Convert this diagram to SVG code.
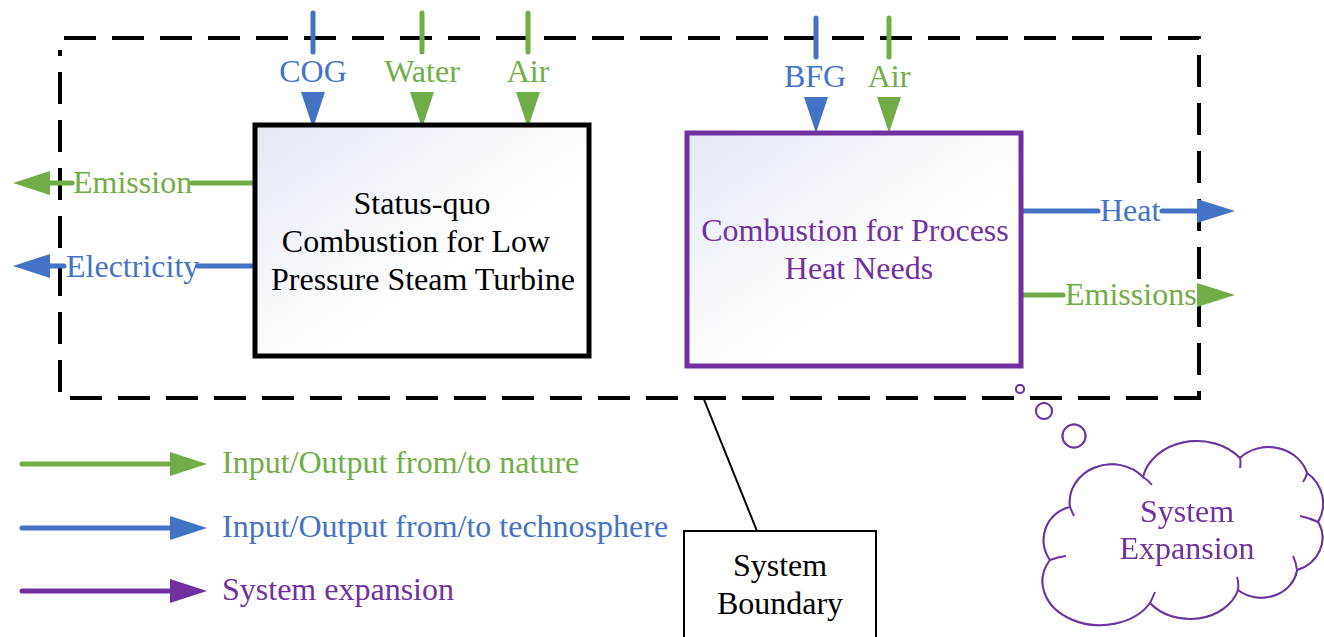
<svg xmlns="http://www.w3.org/2000/svg" width="1324" height="637" viewBox="0 0 1324 637">
<defs>
<linearGradient id="gb" x1="0" y1="0" x2="1" y2="1">
<stop offset="0" stop-color="#e4e9f5"/>
<stop offset="0.6" stop-color="#ffffff"/>
</linearGradient>
<filter id="sh" x="-10%" y="-10%" width="130%" height="130%">
<feGaussianBlur in="SourceAlpha" stdDeviation="3"/>
<feOffset dx="2" dy="3"/>
<feComponentTransfer><feFuncA type="linear" slope="0.25"/></feComponentTransfer>
<feFlood flood-color="#4472c4"/>
<feComposite operator="in" in2="SourceAlpha"/>
<feMerge><feMergeNode/><feMergeNode in="SourceGraphic"/></feMerge>
</filter>
</defs>
<style>
text{font-family:"Liberation Serif","Times New Roman",serif;font-size:32px}
.g{fill:#70ad47}.b{fill:#4472c4}.p{fill:#7030a0}.k{fill:#000}
.lg{stroke:#70ad47;stroke-width:5;stroke-linecap:round;fill:none}
.lb{stroke:#4472c4;stroke-width:5;stroke-linecap:round;fill:none}
.lp{stroke:#7030a0;stroke-width:5;stroke-linecap:round;fill:none}
.mid{text-anchor:middle}
</style>
<g id="boundary">
<path d="M64 38 H1199 V398 H60 V50" fill="none" stroke="#000" stroke-width="4" stroke-dasharray="32 16"/>
</g>
<g id="connectors">
<line class="lb" x1="313" y1="13" x2="313" y2="52"/>
<polygon class="b" points="301,92 325,92 313,128"/>
<line class="lg" x1="422" y1="13" x2="422" y2="52"/>
<polygon class="g" points="410,92 434,92 422,128"/>
<line class="lg" x1="528" y1="13" x2="528" y2="52"/>
<polygon class="g" points="516,92 540,92 528,128"/>
<line class="lb" x1="816" y1="18" x2="816" y2="57"/>
<polygon class="b" points="804,97 828,97 816,133"/>
<line class="lg" x1="889" y1="18" x2="889" y2="57"/>
<polygon class="g" points="877,97 901,97 889,133"/>
<line class="lg" x1="192" y1="183" x2="254" y2="183"/>
<line class="lg" x1="50" y1="183" x2="72" y2="183"/>
<polygon class="g" points="50,171 50,195 13,183"/>
<line class="lb" x1="198" y1="266" x2="254" y2="266"/>
<line class="lb" x1="50" y1="266" x2="64" y2="266"/>
<polygon class="b" points="50,254 50,278 13,266"/>
<line class="lb" x1="1021" y1="211" x2="1098" y2="211"/>
<line class="lb" x1="1162" y1="211" x2="1198" y2="211"/>
<polygon class="b" points="1197,199 1197,223 1235,211"/>
<line class="lg" x1="1021" y1="295" x2="1063" y2="295"/>
<polygon class="g" points="1197,283 1197,307 1235,295"/>
<line x1="703" y1="397" x2="757" y2="531" stroke="#000" stroke-width="2"/>
</g>
<g id="labels">
<text class="b mid" x="313" y="82">COG</text>
<text class="g mid" x="422" y="82">Water</text>
<text class="g mid" x="528" y="82">Air</text>
<text class="b mid" x="815" y="87">BFG</text>
<text class="g mid" x="889" y="87">Air</text>
<text class="g" x="73" y="193">Emission</text>
<text class="b" x="66" y="277">Electricity</text>
<text class="b" x="1100" y="221">Heat</text>
<text class="g" x="1065" y="305">Emissions</text>
</g>
<g id="box1">
<rect x="255" y="125" width="334" height="231" fill="url(#gb)" stroke="#000" stroke-width="5"/>
<text class="k mid" x="422" y="214">Status-quo</text>
<text class="k mid" x="416" y="252">Combustion for Low</text>
<text class="k mid" x="423" y="290">Pressure Steam Turbine</text>
</g>
<g id="box2">
<rect x="687" y="133" width="334" height="233" fill="url(#gb)" stroke="#7030a0" stroke-width="5"/>
<text class="p mid" x="855" y="241">Combustion for Process</text>
<text class="p mid" x="859" y="279">Heat Needs</text>
</g>
<g id="callout">
<rect x="684" y="531" width="192" height="115" fill="#fff" stroke="#000" stroke-width="2"/>
<text class="k mid" x="780" y="576">System</text>
<text class="k mid" x="780" y="614">Boundary</text>
</g>
<g id="cloud" filter="url(#sh)">
<circle cx="1020" cy="389" r="4" fill="#fff" stroke="#7030a0" stroke-width="2"/>
<circle cx="1044" cy="411" r="8" fill="#fff" stroke="#7030a0" stroke-width="2"/>
<circle cx="1074" cy="436" r="11.5" fill="#fff" stroke="#7030a0" stroke-width="2"/>
<path d="M1070 507 A42 38 0 0 1 1143 477 A55 45 0 0 1 1240 458 A40 36 0 0 1 1307 473 A40 38 0 0 1 1318 522 A38 34 0 0 1 1297 570 A36 32 0 0 1 1238 590 A50 40 0 0 1 1150 603 A50 38 0 0 1 1050 560 A34 34 0 0 1 1070 507 Z" fill="#fff" stroke="#7030a0" stroke-width="2"/>
<path d="M1143 477 Q1148 480 1152 485 M1240 458 Q1241 463 1240 468 M1307 473 Q1306 478 1303 482 M1318 522 Q1310 518 1300 516 M1297 570 Q1296 562 1293 556 M1238 590 Q1239 583 1237 577 M1150 603 Q1153 597 1155 592 M1050 560 Q1058 557 1066 556 M1070 507 Q1072 512 1074 516" fill="none" stroke="#7030a0" stroke-width="2"/>
<text class="p mid" x="1187" y="522">System</text>
<text class="p mid" x="1187" y="559">Expansion</text>
</g>
<g id="legend">
<line class="lg" x1="22" y1="464" x2="172" y2="464"/>
<polygon class="g" points="170,452 170,476 207,464"/>
<text class="g" x="222" y="473">Input/Output from/to nature</text>
<line class="lb" x1="22" y1="528" x2="172" y2="528"/>
<polygon class="b" points="170,516 170,540 207,528"/>
<text class="b" x="222" y="537">Input/Output from/to technosphere</text>
<line class="lp" x1="22" y1="591" x2="172" y2="591"/>
<polygon class="p" points="170,579 170,603 207,591"/>
<text class="p" x="222" y="600">System expansion</text>
</g>
</svg>
